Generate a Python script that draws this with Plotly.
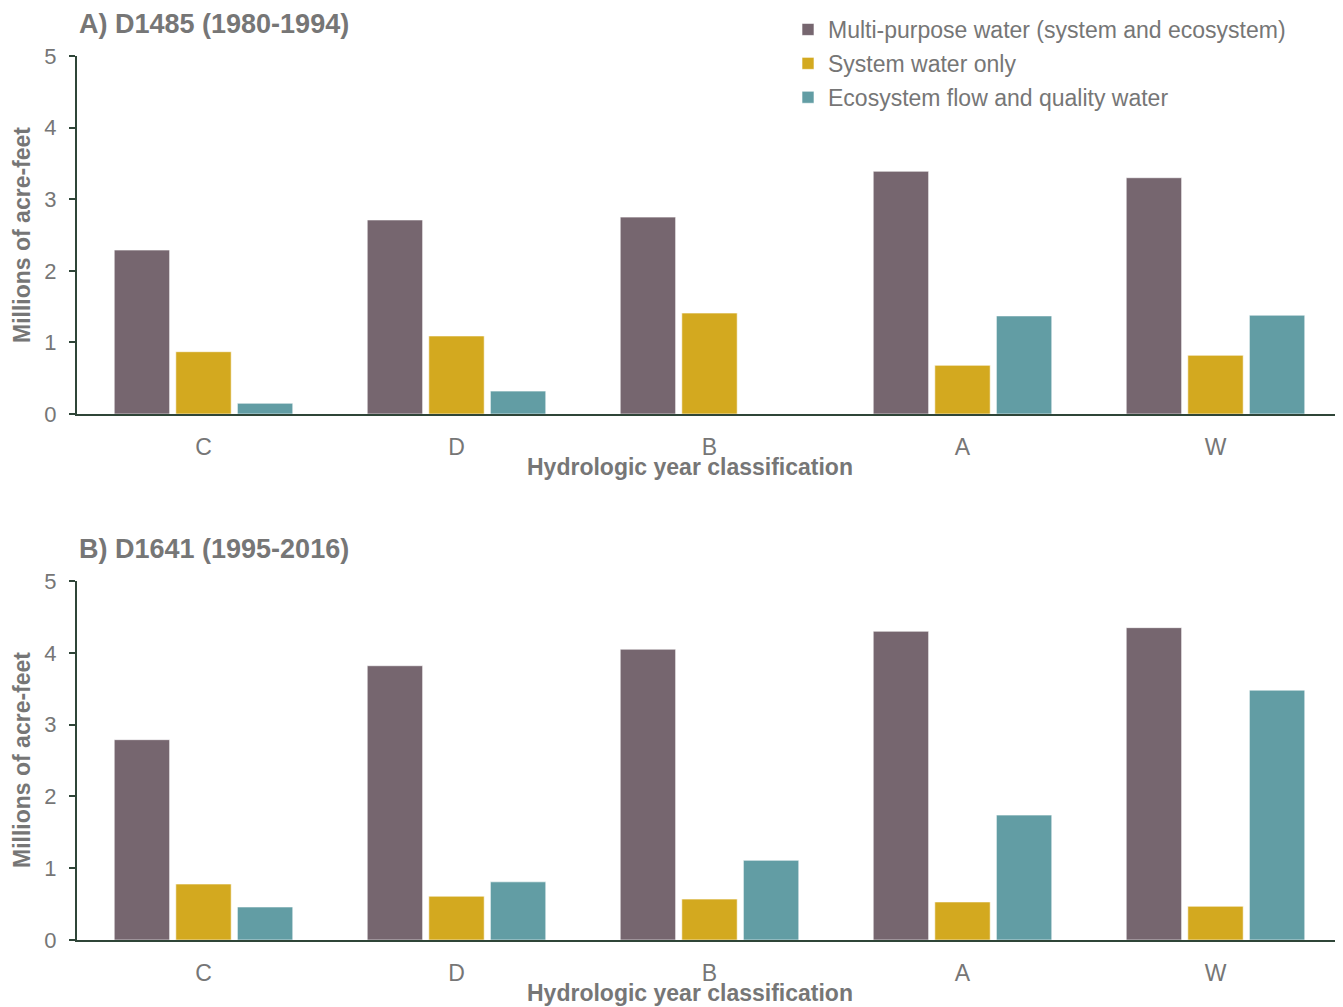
import plotly.graph_objects as go

categories = ["C", "D", "B", "A", "W"]
series_names = ["Multi-purpose water (system and ecosystem)", "System water only", "Ecosystem flow and quality water"]
colors = ["#76666F", "#D3A91F", "#629DA4"]

# Panel A: D1485 (1980-1994)
a_multi = [2.29, 2.71, 2.75, 3.39, 3.30]
a_system = [0.87, 1.09, 1.41, 0.68, 0.82]
a_eco = [0.15, 0.32, 0.0, 1.37, 1.38]

# Panel B: D1641 (1995-2016)
b_multi = [2.79, 3.82, 4.05, 4.30, 4.35]
b_system = [0.78, 0.61, 0.57, 0.53, 0.47]
b_eco = [0.46, 0.81, 1.11, 1.74, 3.48]

yticks = [0, 1, 2, 3, 4, 5]
panel_titles = ["A) D1485 (1980-1994)", "B) D1641 (1995-2016)"]
xtitle = "Hydrologic year classification"
ytitle = "Millions of acre-feet"

FONT = "Liberation Sans, Arial, sans-serif"
GRAY = "#767676"
AXIS = "#2F4538"

fig = go.Figure()
for i, vals in enumerate([a_multi, a_system, a_eco]):
    fig.add_trace(go.Bar(x=categories, y=vals, name=series_names[i], marker_color=colors[i],
                         marker_line=dict(color="rgba(255,255,255,0.6)", width=1),
                         xaxis="x", yaxis="y", showlegend=True, legendgroup=str(i)))
for i, vals in enumerate([b_multi, b_system, b_eco]):
    fig.add_trace(go.Bar(x=categories, y=vals, name=series_names[i], marker_color=colors[i],
                         marker_line=dict(color="rgba(255,255,255,0.6)", width=1),
                         xaxis="x2", yaxis="y2", showlegend=False, legendgroup=str(i)))

# page body has an 8px offset; work in figure pixels = screen - 8
OFF = 8
W, H = 1335, 999
ml, mr, mt, mb = 77 - OFF, 1, 56 - OFF, 67
ph = H - mt - mb
pw = W - ml - mr

def py(screen_y):
    return (H - mb - (screen_y - OFF)) / ph

def px(screen_x):
    return ((screen_x - OFF) - ml) / pw

xax = dict(showline=True, linecolor=AXIS, linewidth=2, ticks="", showgrid=False,
           tickfont=dict(size=23, color=GRAY, family=FONT), ticklabelstandoff=11,
           domain=[0, 1])
yax = dict(range=[0, 5], tickvals=yticks, showline=True, linecolor=AXIS, linewidth=2,
           ticks="outside", ticklen=6, tickcolor=AXIS, tickwidth=2, showgrid=False,
           zeroline=False, tickfont=dict(size=22, color=GRAY, family=FONT),
           ticklabelstandoff=8)

fig.update_layout(
    width=W, height=H,
    margin=dict(l=ml, r=mr, t=mt, b=mb, autoexpand=False),
    plot_bgcolor="white", paper_bgcolor="white",
    barmode="group", bargap=0.27, bargroupgap=0.1,
    font=dict(family=FONT, color=GRAY),
    xaxis=dict(xax, anchor="y"),
    yaxis=dict(yax, domain=[py(414), py(56)], anchor="x"),
    xaxis2=dict(xax, anchor="y2"),
    yaxis2=dict(yax, domain=[py(940), py(581)], anchor="x2"),
    legend=dict(x=(788 - OFF) / W, xref="container", y=1.0, yref="container",
                xanchor="left", yanchor="top",
                font=dict(size=23, color=GRAY, family=FONT), itemwidth=30,
                tracegroupgap=1, bgcolor="rgba(0,0,0,0)"),
    showlegend=True,
)

ann = []
for t, ypix in zip(panel_titles, [24, 549]):
    ann.append(dict(text="<b>%s</b>" % t, x=px(77), xref="paper", y=py(ypix), yref="paper",
                    xanchor="left", yanchor="middle", showarrow=False,
                    font=dict(size=27, color=GRAY, family=FONT)))
for ypix in [467, 993]:
    ann.append(dict(text="<b>%s</b>" % xtitle, x=px(690), xref="paper", y=py(ypix), yref="paper",
                    xanchor="center", yanchor="middle", showarrow=False,
                    font=dict(size=23, color=GRAY, family=FONT)))
for ypix in [235, 760]:
    ann.append(dict(text="<b>%s</b>" % ytitle, x=px(22), xref="paper", y=py(ypix), yref="paper",
                    xanchor="center", yanchor="middle", showarrow=False, textangle=-90,
                    font=dict(size=23, color=GRAY, family=FONT)))
fig.update_layout(annotations=ann)

fig.write_html("out.html")
